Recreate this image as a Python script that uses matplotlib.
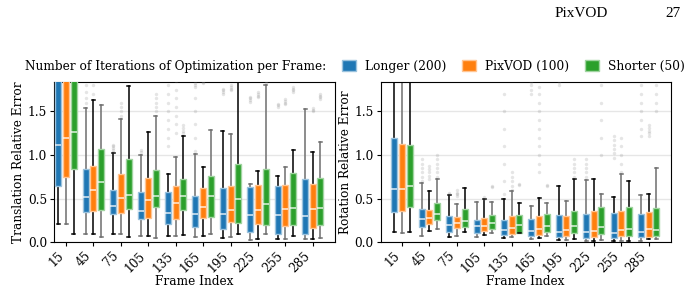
import numpy as np
import matplotlib.pyplot as plt
from matplotlib.patches import Patch
from matplotlib.colors import to_rgb

plt.rcParams['font.family'] = 'DejaVu Serif'
plt.rcParams['font.size'] = 8.7

frames = [15, 45, 75, 105, 135, 165, 195, 225, 255, 285]
methods = ['Longer (200)', 'PixVOD (100)', 'Shorter (50)']
colors = ['#1f77b4', '#ff7f0e', '#2ca02c']

# Translation relative error: box statistics per method (blue, orange, green)
trans_low = [[0.21, 0.10, 0.10, 0.076, 0.073, 0.065, 0.05, 0.03, 0.034, 0.038],
             [0.21, 0.095, 0.10, 0.076, 0.076, 0.076, 0.065, 0.038, 0.034, 0.042],
             [0.10, 0.06, 0.057, 0.053, 0.088, 0.09, 0.09, 0.095, 0.073, 0.046]]
trans_q1 = [[0.645, 0.345, 0.32, 0.27, 0.21, 0.18, 0.15, 0.12, 0.10, 0.092],
            [0.745, 0.36, 0.34, 0.28, 0.27, 0.28, 0.23, 0.214, 0.183, 0.16],
            [0.84, 0.365, 0.385, 0.405, 0.37, 0.29, 0.225, 0.195, 0.195, 0.195]]
trans_med = [[1.11, 0.52, 0.415, 0.355, 0.34, 0.325, 0.325, 0.313, 0.31, 0.305],
             [1.195, 0.60, 0.51, 0.485, 0.447, 0.41, 0.374, 0.374, 0.378, 0.378],
             [1.26, 0.69, 0.54, 0.527, 0.53, 0.53, 0.496, 0.435, 0.397, 0.393]]
trans_q3 = [[2.1, 0.835, 0.60, 0.58, 0.576, 0.527, 0.618, 0.63, 0.645, 0.72],
            [2.2, 0.87, 0.78, 0.737, 0.65, 0.626, 0.64, 0.66, 0.656, 0.672],
            [2.3, 1.07, 0.95, 0.83, 0.72, 0.76, 0.893, 0.84, 0.79, 0.737]]
trans_high = [[3.5, 1.54, 1.02, 1.0, 0.786, 1.015, 1.275, 0.672, 0.763, 1.53],
              [3.6, 1.63, 1.415, 1.26, 0.973, 0.866, 1.24, 0.817, 0.866, 1.04],
              [3.8, 1.57, 1.79, 1.445, 1.22, 1.29, 2.1, 1.80, 1.053, 1.145]]
trans_fliers = [
    [[], [1.6, 1.65, 1.72, 1.8], [1.04, 1.06, 1.08, 1.1, 1.12], [1.04, 1.06],
     [1.1, 1.2, 1.3, 1.4, 1.5, 1.6, 1.7, 1.8], [1.05, 1.2, 1.35, 1.5, 1.65, 1.78, 1.8, 1.82],
     [1.70, 1.72, 1.74, 1.76], [1.61, 1.63, 1.65, 1.67], [1.55, 1.57, 1.59], []],
    [[], [1.7, 1.8], [1.45, 1.5, 1.55, 1.6], [],
     [1.25, 1.35, 1.45, 1.55, 1.65, 1.75, 1.85], [1.82, 1.84],
     [1.74, 1.76, 1.78, 1.8], [1.66, 1.68, 1.7, 1.72], [1.58, 1.6, 1.62, 1.64], [1.5, 1.52, 1.54]],
    [[], [], [], [1.5, 1.55, 1.6, 1.65, 1.7], [1.25, 1.28, 1.31, 1.34], [], [],
     [1.83, 1.85], [1.72, 1.74, 1.76, 1.78], [1.64, 1.66, 1.68, 1.7]],
]

# Rotation relative error
rot_low = [[0.115, 0.073, 0.065, 0.057, 0.046, 0.038, 0.027, 0.02, 0.015, 0.02],
           [0.11, 0.126, 0.073, 0.08, 0.057, 0.046, 0.023, 0.015, 0.011, 0.038],
           [0.12, 0.15, 0.122, 0.107, 0.103, 0.073, 0.042, 0.03, 0.02, 0.034]]
rot_q1 = [[0.35, 0.18, 0.122, 0.11, 0.088, 0.076, 0.065, 0.05, 0.053, 0.057],
          [0.36, 0.214, 0.16, 0.13, 0.10, 0.08, 0.073, 0.065, 0.069, 0.065],
          [0.40, 0.25, 0.18, 0.156, 0.11, 0.118, 0.103, 0.092, 0.076, 0.073]]
rot_med = [[0.61, 0.27, 0.195, 0.187, 0.137, 0.13, 0.118, 0.115, 0.107, 0.115],
           [0.61, 0.28, 0.22, 0.183, 0.16, 0.15, 0.137, 0.134, 0.141, 0.15],
           [0.65, 0.325, 0.24, 0.218, 0.202, 0.187, 0.187, 0.172, 0.15, 0.141]]
rot_q3 = [[1.19, 0.385, 0.30, 0.25, 0.256, 0.267, 0.31, 0.324, 0.336, 0.324],
          [1.126, 0.374, 0.294, 0.28, 0.305, 0.305, 0.30, 0.36, 0.355, 0.347],
          [1.115, 0.447, 0.38, 0.313, 0.313, 0.32, 0.355, 0.40, 0.40, 0.393]]
rot_high = [[3.0, 0.675, 0.54, 0.458, 0.50, 0.416, 0.64, 0.71, 0.52, 0.54],
            [3.0, 0.59, 0.44, 0.50, 0.588, 0.508, 0.477, 0.725, 0.78, 0.55],
            [3.0, 0.72, 0.62, 0.458, 0.447, 0.447, 0.73, 0.557, 0.70, 0.85]]
rot_fliers = [
    [[], [0.7, 0.75, 0.8, 0.85, 0.9, 0.95], [0.55, 0.57], [],
     [0.55, 0.7, 0.9, 1.1, 1.3, 1.5, 1.7], [1.7, 1.75, 1.8, 1.84], [1.8, 1.84],
     [0.75, 0.8, 0.85, 0.9, 0.95], [0.97, 1.02, 1.07, 1.12, 1.17, 1.22],
     [1.22, 1.3, 1.4, 1.5, 1.6, 1.7, 1.8]],
    [[], [0.72, 0.76, 0.8, 0.84, 0.87], [0.53, 0.55, 0.57, 0.6], [0.5, 0.52],
     [0.6, 0.65, 0.7, 0.75, 0.8], [0.8, 0.9, 1.0, 1.1, 1.2, 1.3, 1.4, 1.5, 1.6, 1.7, 1.78],
     [], [], [0.8, 0.9, 1.0, 1.1, 1.2], [1.22, 1.25, 1.28, 1.31, 1.34]],
    [[], [0.75, 0.8, 0.85, 0.9, 0.95, 1.0], [], [0.63, 0.65], [0.66, 0.67], [0.64, 0.66],
     [0.75, 0.8, 0.85, 0.9, 0.95], [1.0, 1.2, 1.4, 1.6, 1.8], [], [1.5, 1.6, 1.7, 1.8]],
]


def lighten(c, f=0.5):
    r = np.array(to_rgb(c))
    return tuple(r + (1 - r) * f)


def draw_boxes(ax, low, q1, med, q3, high, fliers):
    offsets = [-0.28, 0.0, 0.28]
    for m in range(3):
        stats = []
        for g in range(len(frames)):
            stats.append(dict(med=med[m][g], q1=q1[m][g], q3=q3[m][g],
                              whislo=low[m][g], whishi=high[m][g],
                              fliers=fliers[m][g]))
        pos = [g + offsets[m] for g in range(len(frames))]
        bp = ax.bxp(stats, positions=pos, widths=0.22, patch_artist=True,
                    manage_ticks=False, zorder=3,
                    boxprops=dict(facecolor=colors[m], edgecolor=lighten(colors[m], 0.55), linewidth=1),
                    medianprops=dict(color='white', linewidth=1.1, alpha=0.85),
                    flierprops=dict(marker='o', markersize=2.5, markerfacecolor='gray',
                                    markeredgecolor='none', alpha=0.2))
        # whiskers alternate between black and grey along the row of boxes
        for g in range(len(frames)):
            k = g * 3 + m
            wc = 'black' if k % 2 == 0 else '#6e6e6e'
            for ln in bp['whiskers'][2 * g:2 * g + 2]:
                ln.set_color(wc)
                ln.set_linewidth(1.1)
                ln.set_zorder(2)
            for ln in bp['caps'][2 * g:2 * g + 2]:
                ln.set_color(wc)
                ln.set_linewidth(1.1)
    ax.set_ylim(0, 1.84)
    ax.set_yticks([0.0, 0.5, 1.0, 1.5])
    ax.grid(axis='y', color='#e6e6e6', linewidth=1, zorder=0)
    ax.set_axisbelow(True)
    ax.set_xticks(range(len(frames)))
    ax.set_xticklabels(frames, rotation=45, ha='right')
    ax.tick_params(axis='both', length=3, pad=2)
    ax.set_xlabel('Frame Index', labelpad=0)


fig = plt.figure(figsize=(6.91, 2.9), dpi=100)
ax1 = fig.add_axes([0.0781, 0.1645, 0.4067, 0.5538])
ax2 = fig.add_axes([0.551, 0.1645, 0.4197, 0.5538])

draw_boxes(ax1, trans_low, trans_q1, trans_med, trans_q3, trans_high, trans_fliers)
ax1.set_xlim(-0.44, 9.81)
ax1.set_ylabel('Translation Relative Error', labelpad=2)

draw_boxes(ax2, rot_low, rot_q1, rot_med, rot_q3, rot_high, rot_fliers)
ax2.set_xlim(-0.78, 9.81)
ax2.set_ylabel('Rotation Relative Error', labelpad=2)

# Legend row
fig.text(0.036, 0.772, 'Number of Iterations of Optimization per Frame:', va='center', ha='left')
handles = [Patch(facecolor=c, edgecolor=lighten(c, 0.55)) for c in colors]
fig.legend(handles, methods, loc='center left', bbox_to_anchor=(0.495, 0.772), ncol=3,
           frameon=False, fontsize=8.8, handlelength=1.15, handleheight=1.0, handletextpad=0.75,
           columnspacing=1.25, borderpad=0, borderaxespad=0)

# Page header
fig.text(0.803, 0.955, 'PixVOD', fontsize=11, family='Liberation Serif', va='center', ha='left')
fig.text(0.963, 0.955, '27', fontsize=11, family='Liberation Serif', va='center', ha='left')

fig.savefig('out.png', dpi=100)
